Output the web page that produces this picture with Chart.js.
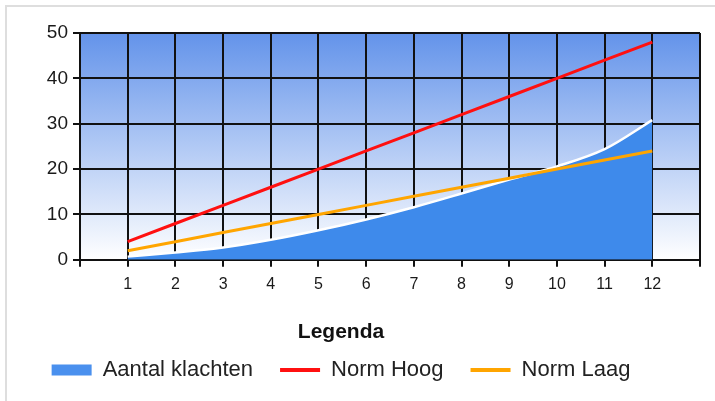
<!DOCTYPE html>
<html>
<head>
<meta charset="utf-8">
<script src="https://cdn.jsdelivr.net/npm/chart.js@4/dist/chart.umd.min.js"></script>
<style>
  body { margin: 0; background: #fff; }
  #wrap { position: relative; width: 715px; height: 401px; }
  #frame { position: absolute; left: 5px; top: 5px; right: 0; bottom: 0; border-top: 2px solid #dedede; border-left: 2px solid #dedede; }
  #chart { position: absolute; left: 0; top: 0; }
</style>
</head>
<body>
<div id="wrap">
  <div id="frame"></div>
  <canvas id="chart" width="715" height="401"></canvas>
</div>
<script>
const months = [1, 2, 3, 4, 5, 6, 7, 8, 9, 10, 11, 12];
const klachten = [0.7, 1.6, 2.7, 4.4, 6.5, 8.9, 11.6, 14.6, 17.7, 20.6, 24.4, 30.8];
const normHoog = [4, 8, 12, 16, 20, 24, 28, 32, 36, 40, 44, 48];
const normLaag = [2, 4, 6, 8, 10, 12, 14, 16, 18, 20, 22, 24];
const yTicks = [0, 10, 20, 30, 40, 50];

const toPoints = (values) => months.map((m, i) => ({ x: m, y: values[i] }));

// blue-to-white fill behind the grid
const plotBackground = {
    id: 'plotBackground',
    beforeDraw(chart) {
        const { ctx, chartArea: a } = chart;
        const grad = ctx.createLinearGradient(0, a.top, 0, a.bottom);
        grad.addColorStop(0, '#6393ea');
        grad.addColorStop(1, '#ffffff');
        ctx.save();
        ctx.fillStyle = grad;
        ctx.fillRect(a.left, a.top, a.right - a.left, a.bottom - a.top);
        ctx.restore();
    }
};

// legend sits a little left of the canvas centre
const legendShift = {
    id: 'legendShift',
    afterLayout(chart) {
        chart.legend.left -= 9;
        chart.legend.right -= 9;
    }
};

const ctx = document.getElementById('chart').getContext('2d');
const chart = new Chart(ctx, {
    type: 'line',
    data: {
        datasets: [{
            label: 'Aantal klachten',
            data: toPoints(klachten),
            backgroundColor: '#3e8aeb',
            borderColor: '#ffffff',
            borderWidth: 2.5,
            fill: 'origin',
            cubicInterpolationMode: 'monotone',
            pointRadius: 0,
            pointStyle: 'rect',
            order: 3
        }, {
            label: 'Norm Hoog',
            data: toPoints(normHoog),
            borderColor: '#ff1010',
            backgroundColor: '#ff1010',
            borderWidth: 3,
            pointRadius: 0,
            pointStyle: 'line',
            order: 2
        }, {
            label: 'Norm Laag',
            data: toPoints(normLaag),
            borderColor: '#ffa500',
            backgroundColor: '#ffa500',
            borderWidth: 3,
            pointRadius: 0,
            pointStyle: 'line',
            order: 1
        }]
    },
    options: {
        responsive: false,
        animation: false,
        layout: { padding: { top: 33, left: 0, right: 15, bottom: 10 } },
        scales: {
            x: {
                type: 'linear',
                min: 0,
                max: 13,
                afterBuildTicks: (axis) => {
                    axis.ticks = [0, ...months, 13].map(v => ({ value: v }));
                },
                afterFit: (axis) => { axis.height = 62; },
                ticks: {
                    color: '#1a1a1a',
                    font: { family: 'Liberation Sans', size: 16 },
                    padding: 8,
                    maxRotation: 0,
                    autoSkip: false,
                    callback: (v) => months.includes(v) ? String(v) : ''
                },
                grid: { color: '#111', lineWidth: 2, tickLength: 7 },
                border: { color: '#111', width: 2 }
            },
            y: {
                min: 0,
                max: 50,
                afterBuildTicks: (axis) => {
                    axis.ticks = yTicks.map(v => ({ value: v }));
                },
                afterFit: (axis) => { axis.width = 80; },
                ticks: {
                    color: '#1a1a1a',
                    font: { family: 'Liberation Sans', size: 19 },
                    padding: 5
                },
                grid: { color: '#111', lineWidth: 2, tickLength: 7 },
                border: { color: '#111', width: 2 }
            }
        },
        plugins: {
            tooltip: { enabled: false },
            legend: {
                position: 'bottom',
                align: 'center',
                title: {
                    display: true,
                    text: 'Legenda',
                    color: '#111',
                    font: { family: 'Liberation Sans', size: 21, weight: 'bold' },
                    padding: { top: 0, bottom: -15 }
                },
                labels: {
                    color: '#222',
                    font: { family: 'Liberation Sans', size: 22 },
                    usePointStyle: true,
                    pointStyleWidth: 40,
                    boxHeight: 11,
                    padding: 27,
                    sort: (a, b) => a.datasetIndex - b.datasetIndex,
                    generateLabels: (chart) => {
                        const items = Chart.defaults.plugins.legend.labels.generateLabels(chart);
                        items.forEach(item => {
                            const ds = chart.data.datasets[item.datasetIndex];
                            if (item.datasetIndex === 0) {
                                item.fillStyle = '#4a90ee';
                                item.lineWidth = 0;
                            } else {
                                item.strokeStyle = ds.borderColor;
                                item.lineWidth = 4;
                            }
                        });
                        return items;
                    }
                }
            }
        }
    },
    plugins: [plotBackground, legendShift]
});
</script>
</body>
</html>
